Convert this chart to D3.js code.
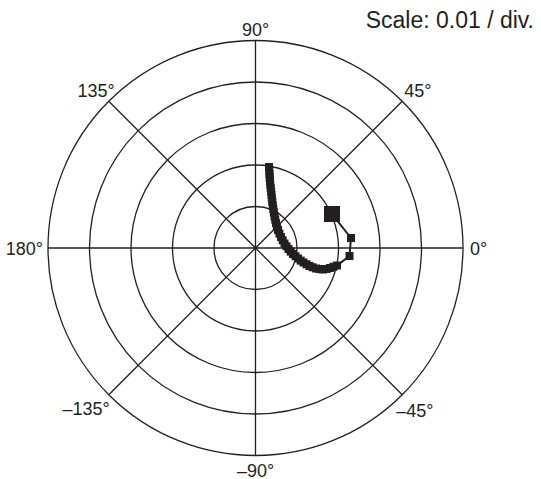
<!DOCTYPE html>
<html>
<head>
<meta charset="utf-8">
<script src="https://cdn.jsdelivr.net/npm/d3@7"></script>
<style>
  body { margin: 0; background: #fff; }
  text { font-family: "Liberation Sans", Arial, sans-serif; fill: #231f20; }
</style>
</head>
<body>
<div id="chart"></div>
<script>
var re = [0.00325, 0.00333, 0.00337, 0.00342, 0.00349, 0.00357, 0.00366, 0.00376, 0.00386, 0.00395,
          0.00405, 0.00417, 0.00429, 0.00443, 0.00458, 0.00475, 0.00494, 0.00516, 0.00542, 0.00576,
          0.00614, 0.00655, 0.00699, 0.00747, 0.00795, 0.00848, 0.00904, 0.00964, 0.01024, 0.01089,
          0.01157, 0.01229, 0.01301, 0.01378, 0.01458, 0.01542, 0.01627, 0.01711, 0.01795, 0.01880,
          0.01964, 0.02265, 0.02301]
var im = [0.01952, 0.01867, 0.01783, 0.01699, 0.01614, 0.01530, 0.01446, 0.01361, 0.01277, 0.01193,
          0.01108, 0.01024, 0.00940, 0.00855, 0.00771, 0.00687, 0.00602, 0.00518, 0.00434, 0.00349,
          0.00265, 0.00186, 0.00108, 0.00041, -0.00024, -0.00087, -0.00145, -0.00200, -0.00253, -0.00304,
          -0.00349, -0.00393, -0.00434, -0.00465, -0.00494, -0.00508, -0.00518, -0.00506, -0.00482, -0.00453,
          -0.00422, -0.00193, 0.00241]
// end point (big marker)
var endRe = 0.01843
var endIm = 0.00819

var ringValues = [0.01, 0.02, 0.03, 0.04, 0.05]
var spokeAngles = [0, 45, 90, 135]
var angleLabels = ["0°", "45°", "90°", "135°", "180°", "–135°", "–90°", "–45°"]
var scaleText = "Scale: 0.01 / div."

var width = 541, height = 479
var cx = 255.5, cy = 248, R = 207.5
var maxVal = 0.05

var svg = d3.select("#chart").append("svg")
  .attr("width", width)
  .attr("height", height)

var x = d3.scaleLinear().domain([-maxVal, maxVal]).range([cx - R, cx + R])
var y = d3.scaleLinear().domain([-maxVal, maxVal]).range([cy + R, cy - R])
var r = d3.scaleLinear().domain([0, maxVal]).range([0, R])

var grid = svg.append("g")
  .attr("fill", "none")
  .attr("stroke", "#231f20")
  .attr("stroke-width", 1.3)

grid.selectAll("circle")
  .data(ringValues).enter()
  .append("circle")
    .attr("cx", cx)
    .attr("cy", cy)
    .attr("r", function(d) { return r(d) })

grid.selectAll("line")
  .data(spokeAngles).enter()
  .append("line")
    .attr("x1", function(d) { return x(maxVal * Math.cos(d * Math.PI / 180)) })
    .attr("y1", function(d) { return y(maxVal * Math.sin(d * Math.PI / 180)) })
    .attr("x2", function(d) { return x(-maxVal * Math.cos(d * Math.PI / 180)) })
    .attr("y2", function(d) { return y(-maxVal * Math.sin(d * Math.PI / 180)) })

// angle labels around the outer ring
var labelPos = [
  {dx: 7, dy: 7, anchor: "start"},     // 0
  {dx: 2, dy: -4, anchor: "start"},    // 45
  {dx: 0, dy: -5, anchor: "middle"},   // 90
  {dx: 6, dy: -4, anchor: "end"},      // 135
  {dx: -5, dy: 7, anchor: "end"},      // 180
  {dx: 1, dy: 20, anchor: "end"},      // -135
  {dx: 0, dy: 21, anchor: "middle"},   // -90
  {dx: -6, dy: 22, anchor: "start"}    // -45
]
svg.selectAll(".alabel")
  .data(angleLabels).enter()
  .append("text")
    .attr("class", "alabel")
    .attr("x", function(d, i) { return x(maxVal * Math.cos(i * Math.PI / 4)) + labelPos[i].dx })
    .attr("y", function(d, i) { return y(maxVal * Math.sin(i * Math.PI / 4)) + labelPos[i].dy })
    .attr("text-anchor", function(d, i) { return labelPos[i].anchor })
    .style("font-size", "18px")
    .text(function(d) { return d })

svg.append("text")
  .attr("x", 534)
  .attr("y", 28)
  .attr("text-anchor", "end")
  .style("font-size", "23px")
  .text(scaleText)

// trace
var pts = re.map(function(d, i) { return [x(d), y(im[i])] })
pts.push([x(endRe), y(endIm)])

svg.append("path")
  .attr("d", d3.line()(pts))
  .attr("fill", "none")
  .attr("stroke", "#231f20")
  .attr("stroke-width", 2)

var ms = 8
svg.selectAll(".pt")
  .data(pts.slice(0, pts.length - 1)).enter()
  .append("rect")
    .attr("class", "pt")
    .attr("x", function(d) { return d[0] - ms / 2 })
    .attr("y", function(d) { return d[1] - ms / 2 })
    .attr("width", ms)
    .attr("height", ms)
    .attr("fill", "#231f20")

var big = 16
svg.append("rect")
  .attr("x", x(endRe) - big / 2)
  .attr("y", y(endIm) - big / 2)
  .attr("width", big)
  .attr("height", big)
  .attr("fill", "#231f20")
</script>
</body>
</html>
